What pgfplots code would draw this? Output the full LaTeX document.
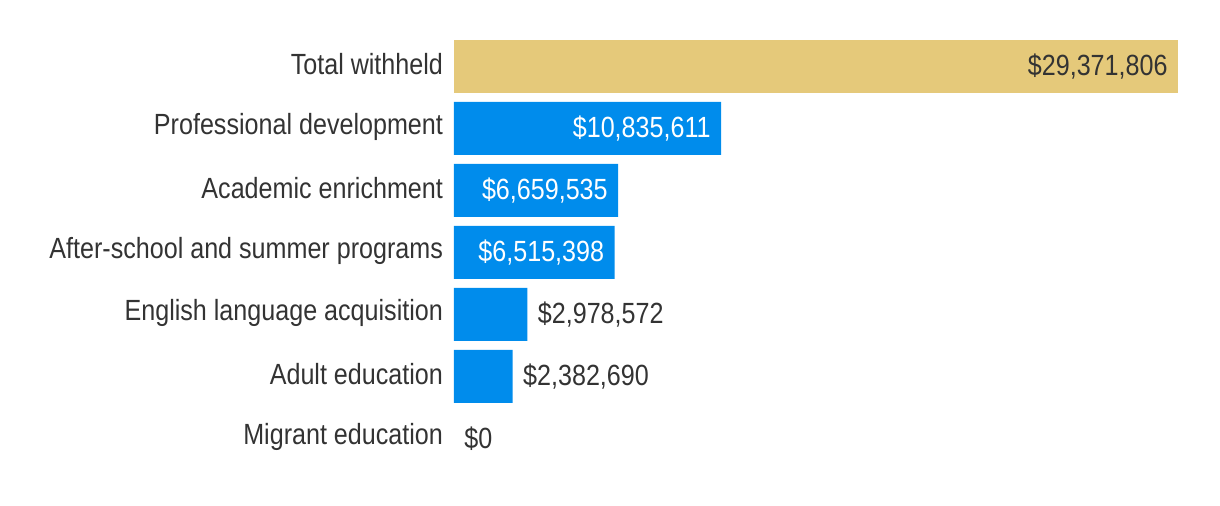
\documentclass[border=0pt]{standalone}
\usepackage{pgfplots}
\pgfplotsset{compat=1.18}
\usepackage{fontspec}
\setmainfont[FakeStretch=0.86]{Liberation Sans}
\definecolor{gold}{HTML}{E5C97A}
\definecolor{blu}{HTML}{008CEC}
\definecolor{txt}{HTML}{333333}
\begin{document}
\begin{tikzpicture}
\begin{axis}[
  at={(0,0)}, anchor=south west,
  scale only axis, width=362pt, height=217pt,
  xbar, bar width=26.5pt, bar shift=0pt,
  xmin=0, xmax=29371806,
  ymin=-0.5, ymax=6.5, y dir=reverse,
  ytick={0,...,6},
  yticklabels={Total withheld,Professional development,Academic enrichment,After-school and summer programs,English language acquisition,Adult education,Migrant education},
  yticklabel style={font=\fontsize{14.6}{17}\selectfont, text=txt, anchor=east, yshift=1pt},
  major tick length=0pt,
  yticklabel shift=2pt,
  xtick=\empty,
  axis line style={draw=none},
  clip=false,
  point meta=explicit symbolic,
  nodes near coords,
  nodes near coords style={font=\fontsize{14.6}{17}\selectfont},
]
\addplot[fill=gold, draw=none, nodes near coords style={anchor=east, xshift=-1.7pt, text=txt}]
  coordinates {(29371806,0) [\$29,371,806]};
\addplot[fill=blu, draw=none, nodes near coords style={anchor=east, xshift=-1.7pt, text=white}]
  coordinates {(10835611,1) [\$10,835,611] (6659535,2) [\$6,659,535] (6515398,3) [\$6,515,398]};
\addplot[fill=blu, draw=none, nodes near coords style={anchor=west, xshift=1.7pt, text=txt}]
  coordinates {(2978572,4) [\$2,978,572] (2382690,5) [\$2,382,690]};
\addplot[fill=none, draw=none, nodes near coords style={anchor=west, xshift=1.7pt, text=txt}]
  coordinates {(0,6) [\$0]};
\end{axis}
\pgfresetboundingbox
\path[use as bounding box] (-227pt,-18.25pt) rectangle (383pt,234.75pt);
\end{tikzpicture}
\end{document}
